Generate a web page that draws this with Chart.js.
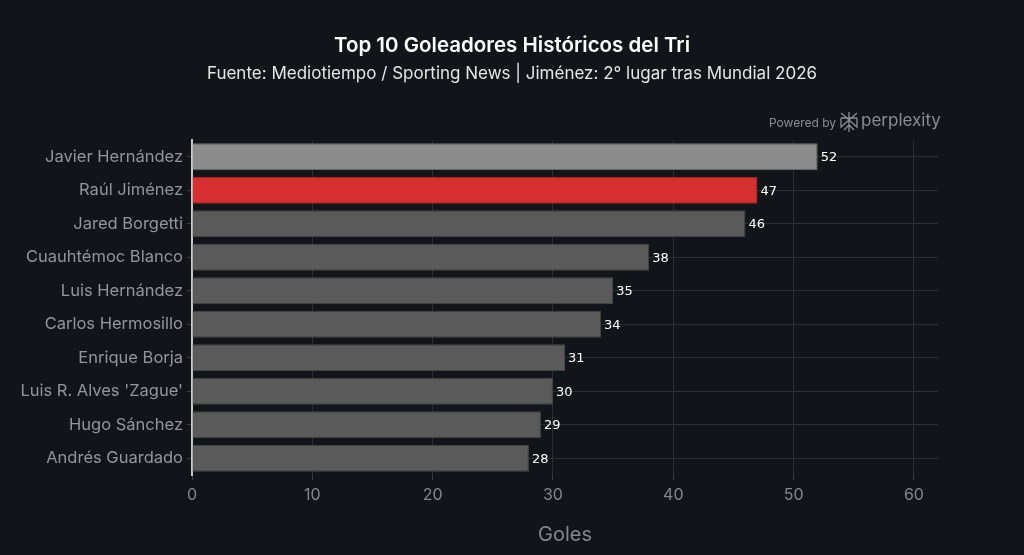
<!DOCTYPE html>
<html lang="es">
<head>
<meta charset="UTF-8">
<title>Top 10 Goleadores Históricos del Tri</title>
<script src="https://cdn.jsdelivr.net/npm/chart.js"></script>
<style>
  html, body { margin: 0; padding: 0; background: #111418; }
  #wrap { width: 1024px; height: 555px; }
</style>
</head>
<body>
<div id="wrap"><canvas id="chart"></canvas></div>
<script>
// datos
const titulo = 'Top 10 Goleadores Históricos del Tri';
const subtitulo = 'Fuente: Mediotiempo / Sporting News | Jiménez: 2° lugar tras Mundial 2026';
const jugadores = ['Javier Hernández', 'Raúl Jiménez', 'Jared Borgetti', 'Cuauhtémoc Blanco',
  'Luis Hernández', 'Carlos Hermosillo', 'Enrique Borja', "Luis R. Alves 'Zague'",
  'Hugo Sánchez', 'Andrés Guardado'];
const goles = [52, 47, 46, 38, 35, 34, 31, 30, 29, 28];
const ticksX = [0, 10, 20, 30, 40, 50, 60];
const colores = ['#8c8c8c', '#d63031', '#5a5a5a', '#5a5a5a', '#5a5a5a', '#5a5a5a', '#5a5a5a', '#5a5a5a', '#5a5a5a', '#5a5a5a'];
const bordes = ['#6f6f6f', '#a82a2a', '#474747', '#474747', '#474747', '#474747', '#474747', '#474747', '#474747', '#474747'];

// etiquetas al final de cada barra
const etiquetas = {
  id: 'etiquetas',
  afterDatasetsDraw(chart) {
    const c = chart.ctx;
    const meta = chart.getDatasetMeta(0);
    c.save();
    c.font = '13px "DejaVu Sans"';
    c.fillStyle = '#ffffff';
    c.textAlign = 'left';
    c.textBaseline = 'middle';
    meta.data.forEach((bar, i) => {
      c.fillText(goles[i], bar.x + 3, bar.y + 1);
    });
    c.restore();
  }
};

// títulos centrados en el lienzo y "Powered by perplexity"
const marca = {
  id: 'marca',
  afterDraw(chart) {
    const c = chart.ctx;
    c.save();
    c.textBaseline = 'middle';
    c.textAlign = 'center';
    c.fillStyle = '#ffffff';
    c.font = '600 20.5px Inter';
    c.fillText(titulo, 512, 46);
    c.fillStyle = '#e6e6e6';
    c.font = '17px Inter';
    c.fillText(subtitulo, 512, 74);

    c.textAlign = 'left';
    c.fillStyle = '#8a8d91';
    c.strokeStyle = '#8a8d91';
    c.font = '12px Inter';
    c.fillText('Powered by', 769, 123);
    c.font = '17px Inter';
    c.fillText('perplexity', 861, 121);
    // logo simple
    c.lineWidth = 1.3;
    const x = 849, y = 122;
    c.beginPath();
    c.moveTo(x, y - 10); c.lineTo(x, y + 10);
    c.moveTo(x - 8, y - 9); c.lineTo(x, y - 2); c.lineTo(x + 8, y - 9);
    c.moveTo(x - 8, y - 4); c.lineTo(x + 8, y - 4);
    c.moveTo(x - 8, y - 4); c.lineTo(x - 8, y + 5); c.lineTo(x, y - 2);
    c.moveTo(x + 8, y - 4); c.lineTo(x + 8, y + 5); c.lineTo(x, y - 2);
    c.moveTo(x - 5, y + 8); c.lineTo(x, y + 3); c.lineTo(x + 5, y + 8);
    c.stroke();
    c.restore();
  }
};

new Chart(document.getElementById('chart'), {
  type: 'bar',
  data: {
    labels: jugadores,
    datasets: [{
      data: goles,
      backgroundColor: colores,
      borderColor: bordes,
      borderWidth: 1,
      borderSkipped: 'start',
      categoryPercentage: 1,
      barPercentage: 0.81
    }]
  },
  options: {
    indexAxis: 'y',
    responsive: true,
    maintainAspectRatio: false,
    animation: false,
    layout: { padding: { left: 0, right: 86, top: 140, bottom: 0 } },
    plugins: {
      legend: { display: false },
      tooltip: { enabled: false },
      title: { display: false },
      subtitle: { display: false }
    },
    scales: {
      x: {
        min: 0,
        max: 62,
        afterFit(s) { s.height = 80; },
        afterBuildTicks(s) { s.ticks = ticksX.map(v => ({ value: v })); },
        ticks: {
          color: '#84878b',
          font: { family: 'Inter', size: 16 },
          padding: 6
        },
        grid: {
          color: '#2a2d31',
          tickColor: '#3a3d42',
          tickLength: 5
        },
        border: { display: false },
        title: {
          display: true,
          text: 'Goles',
          color: '#84878b',
          font: { family: 'Inter', size: 20 },
          padding: { top: 20, bottom: 8 }
        }
      },
      y: {
        afterFit(s) { s.width = 192; },
        ticks: {
          color: '#93969a',
          font: { family: 'Inter', size: 16.5 },
          padding: 4
        },
        grid: {
          offset: false,
          color: '#2a2d31',
          tickColor: '#3a3d42',
          tickLength: 5
        },
        border: { display: true, color: '#c8c8c8', width: 2 }
      }
    }
  },
  plugins: [etiquetas, marca]
});
</script>
</body>
</html>
